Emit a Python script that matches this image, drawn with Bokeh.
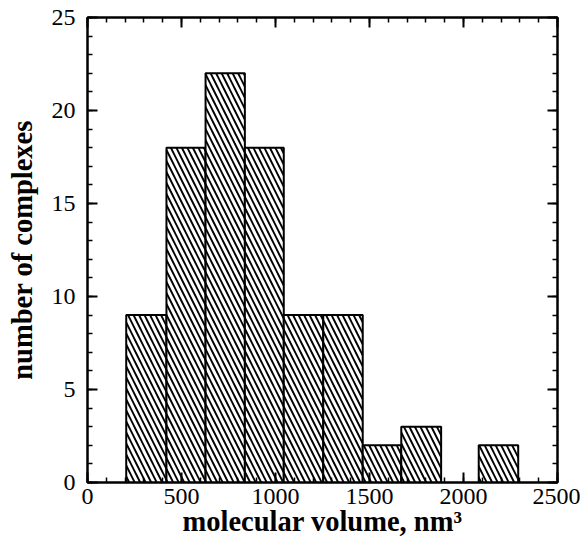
from bokeh.plotting import figure
from bokeh.models import Range1d, LinearAxis, SingleIntervalTicker, ColumnDataSource
from bokeh.embed import file_html
from bokeh.resources import INLINE

# histogram data (molecular volume bins, nm^3)
bin_left = [206, 420, 628, 837, 1044, 1254, 1464, 1669, 1881, 2081]
bin_right = [420, 628, 837, 1044, 1254, 1464, 1669, 1881, 2081, 2291]
counts = [9, 18, 22, 18, 9, 9, 2, 3, 0, 2]

x_label = "molecular volume, nm³"
y_label = "number of complexes"

keep = [i for i, c in enumerate(counts) if c > 0]
src = ColumnDataSource(dict(
    left=[bin_left[i] for i in keep],
    right=[bin_right[i] for i in keep],
    top=[counts[i] for i in keep],
    bottom=[0] * len(keep),
))

p = figure(width=580, height=541, output_backend="svg", toolbar_location=None,
           x_range=Range1d(0, 2500), y_range=Range1d(0, 25),
           x_axis_location=None, y_axis_location=None,
           min_border_left=87, min_border_right=23, min_border_top=17, min_border_bottom=59)
p.xgrid.visible = False
p.ygrid.visible = False
p.outline_line_color = "black"
p.outline_line_width = 2
p.background_fill_color = "white"
p.border_fill_color = "white"

p.quad(left="left", right="right", top="top", bottom="bottom", source=src,
       fill_color="white", line_color="black", line_width=2,
       hatch_pattern="\\", hatch_color="black", hatch_scale=11, hatch_weight=1.9)

FONT = "Liberation Serif"

def style(ax, labels=True):
    ax.axis_line_width = 2
    ax.axis_line_color = "black"
    ax.major_tick_in = 10
    ax.major_tick_out = 0
    ax.minor_tick_in = 5
    ax.minor_tick_out = 0
    ax.major_tick_line_width = 2
    ax.minor_tick_line_width = 1.5
    ax.major_tick_line_color = "black"
    ax.minor_tick_line_color = "black"
    if labels:
        ax.major_label_text_font = FONT
        ax.major_label_text_font_size = "24px"
        ax.major_label_text_color = "black"
        ax.axis_label_text_font = FONT
        ax.axis_label_text_font_size = "28.5px"
        ax.axis_label_text_font_style = "bold"
        ax.axis_label_text_color = "black"
    else:
        ax.major_label_text_font_size = "0px"
        ax.major_label_standoff = 0

xb = LinearAxis(ticker=SingleIntervalTicker(interval=500, num_minor_ticks=5), axis_label=x_label)
style(xb)
xb.major_label_standoff = 6
xb.axis_label_standoff = -1
yl = LinearAxis(ticker=SingleIntervalTicker(interval=5, num_minor_ticks=5), axis_label=y_label)
style(yl)
yl.major_label_standoff = 12
yl.axis_label_standoff = 11
xt = LinearAxis(ticker=SingleIntervalTicker(interval=500, num_minor_ticks=5))
style(xt, labels=False)
yr = LinearAxis(ticker=SingleIntervalTicker(interval=5, num_minor_ticks=5))
style(yr, labels=False)

p.add_layout(xb, "below")
p.add_layout(yl, "left")
p.add_layout(xt, "above")
p.add_layout(yr, "right")

open("out.html", "w").write(file_html(p, INLINE))
